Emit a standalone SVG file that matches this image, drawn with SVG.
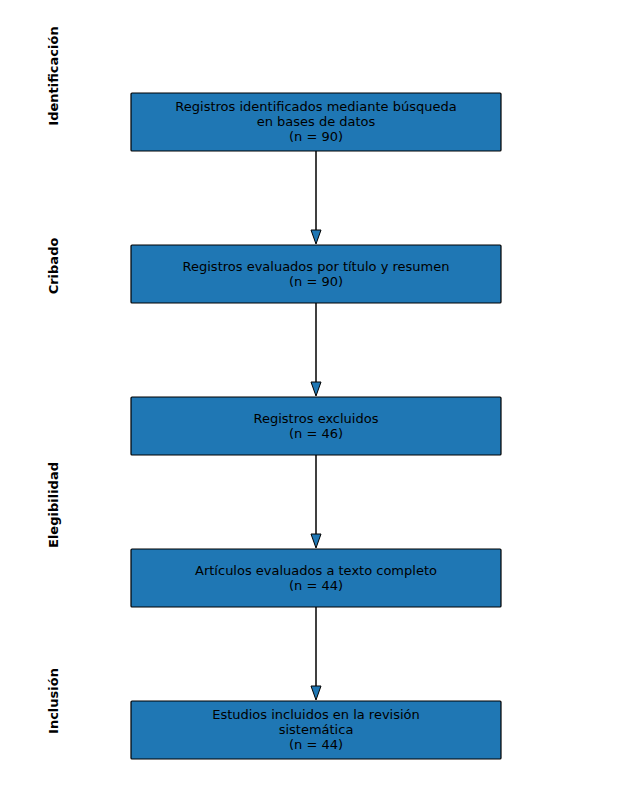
<svg xmlns="http://www.w3.org/2000/svg" width="632" height="807" viewBox="0 0 632 807">
<style>
.box{fill:#1f77b4;stroke:#000;stroke-width:1.2}
.t{font-family:"DejaVu Sans",sans-serif;font-size:13px;fill:#000;text-anchor:middle}
.lab{font-family:"DejaVu Sans",sans-serif;font-size:13px;font-weight:bold;fill:#000;text-anchor:middle}
.ln{stroke:#000;stroke-width:1.5;fill:none}
.ah{fill:#1f77b4;stroke:#000;stroke-width:1}
</style>
<rect width="632" height="807" fill="#fff"/>
<g id="stage-labels">
<text class="lab" transform="translate(58,76) rotate(-90)">Identificación</text>
<text class="lab" transform="translate(58,266) rotate(-90)">Cribado</text>
<text class="lab" transform="translate(58,505) rotate(-90)">Elegibilidad</text>
<text class="lab" transform="translate(58,701) rotate(-90)">Inclusión</text>
</g>
<g id="connectors">
<line class="ln" x1="316" y1="151" x2="316" y2="231"/>
<polygon class="ah" points="311,230 321,230 316,244"/>
<line class="ln" x1="316" y1="303" x2="316" y2="383"/>
<polygon class="ah" points="311,382 321,382 316,396"/>
<line class="ln" x1="316" y1="455" x2="316" y2="535"/>
<polygon class="ah" points="311,534 321,534 316,548"/>
<line class="ln" x1="316" y1="607" x2="316" y2="687"/>
<polygon class="ah" points="311,686 321,686 316,700"/>
</g>
<g id="n1">
<rect class="box" x="131" y="93" width="370" height="58" rx="1"/>
<text class="t" x="316" y="111">Registros identificados mediante búsqueda</text>
<text class="t" x="316" y="126">en bases de datos</text>
<text class="t" x="316" y="141">(n = 90)</text>
</g>
<g id="n2">
<rect class="box" x="131" y="245" width="370" height="58" rx="1"/>
<text class="t" x="316" y="271">Registros evaluados por título y resumen</text>
<text class="t" x="316" y="286">(n = 90)</text>
</g>
<g id="n3">
<rect class="box" x="131" y="397" width="370" height="58" rx="1"/>
<text class="t" x="316" y="423">Registros excluidos</text>
<text class="t" x="316" y="438">(n = 46)</text>
</g>
<g id="n4">
<rect class="box" x="131" y="549" width="370" height="58" rx="1"/>
<text class="t" x="316" y="575">Artículos evaluados a texto completo</text>
<text class="t" x="316" y="590">(n = 44)</text>
</g>
<g id="n5">
<rect class="box" x="131" y="701" width="370" height="58" rx="1"/>
<text class="t" x="316" y="719">Estudios incluidos en la revisión</text>
<text class="t" x="316" y="734">sistemática</text>
<text class="t" x="316" y="749">(n = 44)</text>
</g>
</svg>
